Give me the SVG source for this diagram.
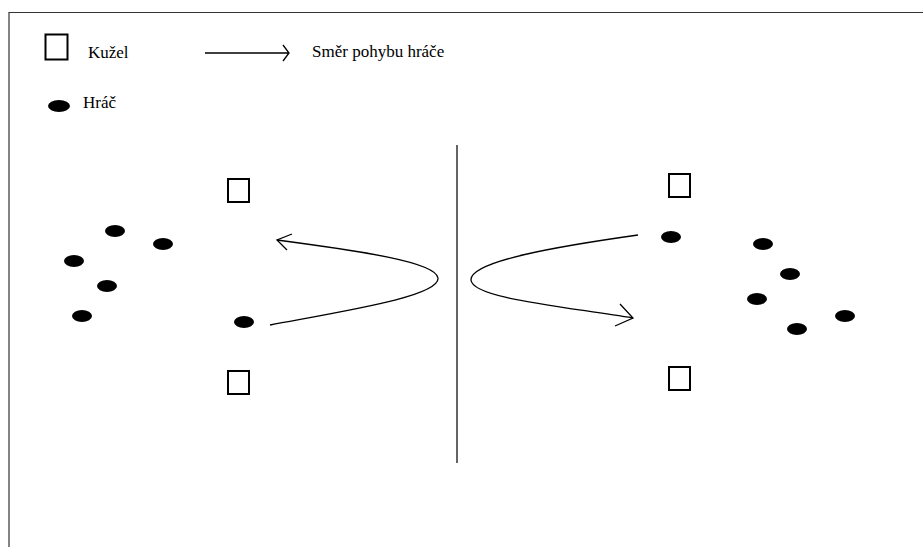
<svg xmlns="http://www.w3.org/2000/svg" width="923" height="547" viewBox="0 0 923 547">
<style>
.cone{fill:#fff;stroke:#000;stroke-width:2}
.player{fill:#000}
.txt{font-family:"Liberation Serif","Times New Roman",serif;font-size:17px;fill:#000}
.path{fill:none;stroke:#000;stroke-width:1.3}
.frame{fill:none;stroke:#333;stroke-width:1.2}
.divider{fill:none;stroke:#111;stroke-width:1.3}
</style>
<rect width="923" height="547" fill="#fff"/>
<g id="frame">
<path class="frame" d="M9,547 V12.5 H923"/>
<path class="divider" d="M457,145 V463"/>
</g>
<g id="legend">
<g id="legend-cone"><rect class="cone" x="45.5" y="34.5" width="22" height="25"/><text class="txt" x="88" y="58">Kužel</text></g>
<g id="legend-arrow"><path class="path" d="M205,53 H288 M283,45 L289,53 L283,61"/><text class="txt" x="312" y="57">Směr pohybu hráče</text></g>
<g id="legend-player"><ellipse class="player" cx="59" cy="106" rx="11" ry="6"/><text class="txt" x="83" y="108">Hráč</text></g>
</g>
<g id="cone-l1"><rect class="cone" x="228" y="179" width="21" height="23"/></g>
<g id="cone-l2"><rect class="cone" x="228" y="371" width="21" height="23"/></g>
<g id="cone-r1"><rect class="cone" x="669" y="174" width="21" height="23"/></g>
<g id="cone-r2"><rect class="cone" x="669" y="367" width="21" height="23"/></g>
<g id="p1"><ellipse class="player" cx="115" cy="231" rx="10" ry="6"/></g>
<g id="p2"><ellipse class="player" cx="163" cy="244" rx="10" ry="6"/></g>
<g id="p3"><ellipse class="player" cx="74" cy="261" rx="10" ry="6"/></g>
<g id="p4"><ellipse class="player" cx="107" cy="286" rx="10" ry="6"/></g>
<g id="p5"><ellipse class="player" cx="82" cy="316" rx="10" ry="6"/></g>
<g id="p6"><ellipse class="player" cx="244" cy="322" rx="10" ry="6"/></g>
<g id="p7"><ellipse class="player" cx="671" cy="237" rx="10" ry="6"/></g>
<g id="p8"><ellipse class="player" cx="763" cy="244" rx="10" ry="6"/></g>
<g id="p9"><ellipse class="player" cx="790" cy="274" rx="10" ry="6"/></g>
<g id="p10"><ellipse class="player" cx="757" cy="299" rx="10" ry="6"/></g>
<g id="p11"><ellipse class="player" cx="797" cy="329" rx="10" ry="6"/></g>
<g id="p12"><ellipse class="player" cx="845" cy="316" rx="10" ry="6"/></g>
<g id="connectors">
<path class="path" d="M270,325 C350,310 440,296 438,278 C436,262 360,251 277,240"/>
<path class="path" d="M292,234 L277,240 L287,250"/>
<path class="path" d="M638,235 C560,246 470,261 471,280 C472,298 560,306 633,318"/>
<path class="path" d="M620,304 L633,318 L615,326"/>
</g>
</svg>
